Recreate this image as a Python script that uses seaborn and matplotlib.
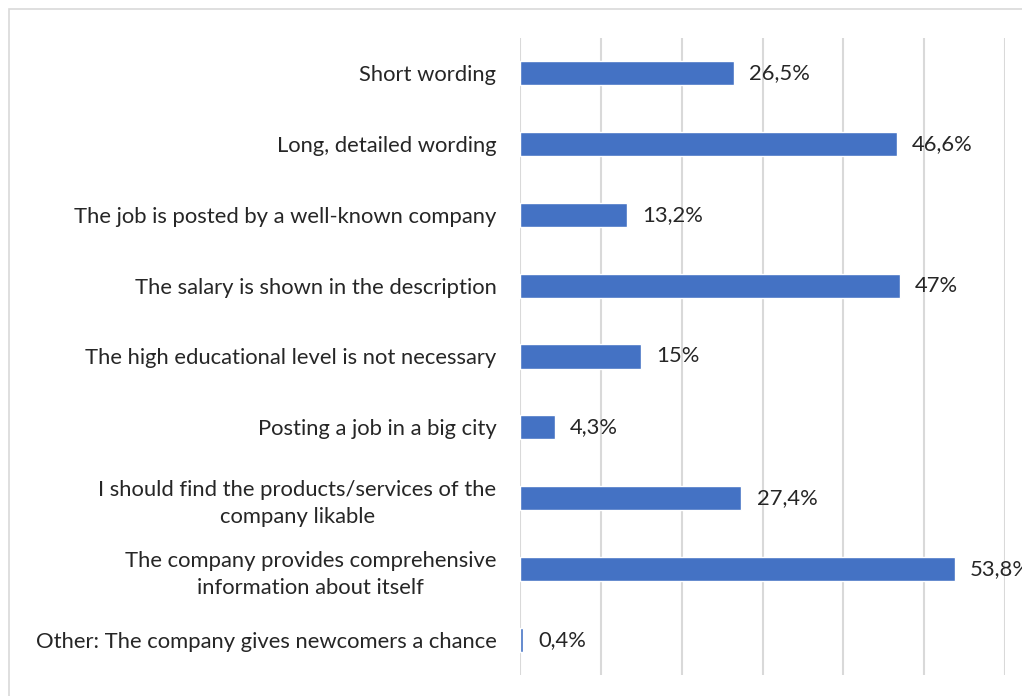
import numpy as np
import pandas as pd
from matplotlib import pyplot as plt
from matplotlib.patches import Rectangle
import seaborn as sns

categories = ['Short wording',
              'Long, detailed wording',
              'The job is posted by a well-known company',
              'The salary is shown in the description',
              'The high educational level is not necessary',
              'Posting a job in a big city',
              'I should find the products/services of the\ncompany likable',
              'The company provides comprehensive\ninformation about itself',
              'Other: The company gives newcomers a chance']
values = [26.5, 46.6, 13.2, 47, 15, 4.3, 27.4, 53.8, 0.4]
value_labels = ['26,5%', '46,6%', '13,2%', '47%', '15%', '4,3%', '27,4%', '53,8%', '0,4%']

df = pd.DataFrame({'answer': categories, 'share': values})

sns.set_style('white')
plt.rcParams['font.family'] = ['Lato', 'DejaVu Sans']

fig = plt.figure(figsize=(10.22, 6.96), dpi=100)
ax = fig.add_axes([520/1022, 1 - 675/696, 485/1022, 637/696])

sns.barplot(data=df, y='answer', x='share', orient='h', color='#4472C4',
            width=0.34, saturation=1, ax=ax)

ax.set_xlim(0, 60)
ax.set_xticks(np.arange(0, 61, 10))
ax.xaxis.grid(True, color='#d9d9d9', linewidth=1.5)
ax.set_axisbelow(True)
ax.set_xticklabels([])
ax.tick_params(axis='both', length=0)
ax.tick_params(axis='y', pad=17, labelsize=15.8)
for lab in ax.get_yticklabels():
    lab.set_multialignment('center')
    lab.set_linespacing(1.45)
for s in ax.spines.values():
    s.set_visible(False)
ax.set_xlabel('')
ax.set_ylabel('')

for t in ax.bar_label(ax.containers[0], labels=value_labels, padding=11, fontsize=15.8):
    t.set_clip_on(False)

# chart frame (partly cut by the image edge)
fig.patches.append(Rectangle((9/1022, -0.1), 1.2, 1 - 9/696 + 0.1, transform=fig.transFigure,
                             fill=False, edgecolor='#d9d9d9', linewidth=1.2))

plt.savefig('out.png', dpi=100)
